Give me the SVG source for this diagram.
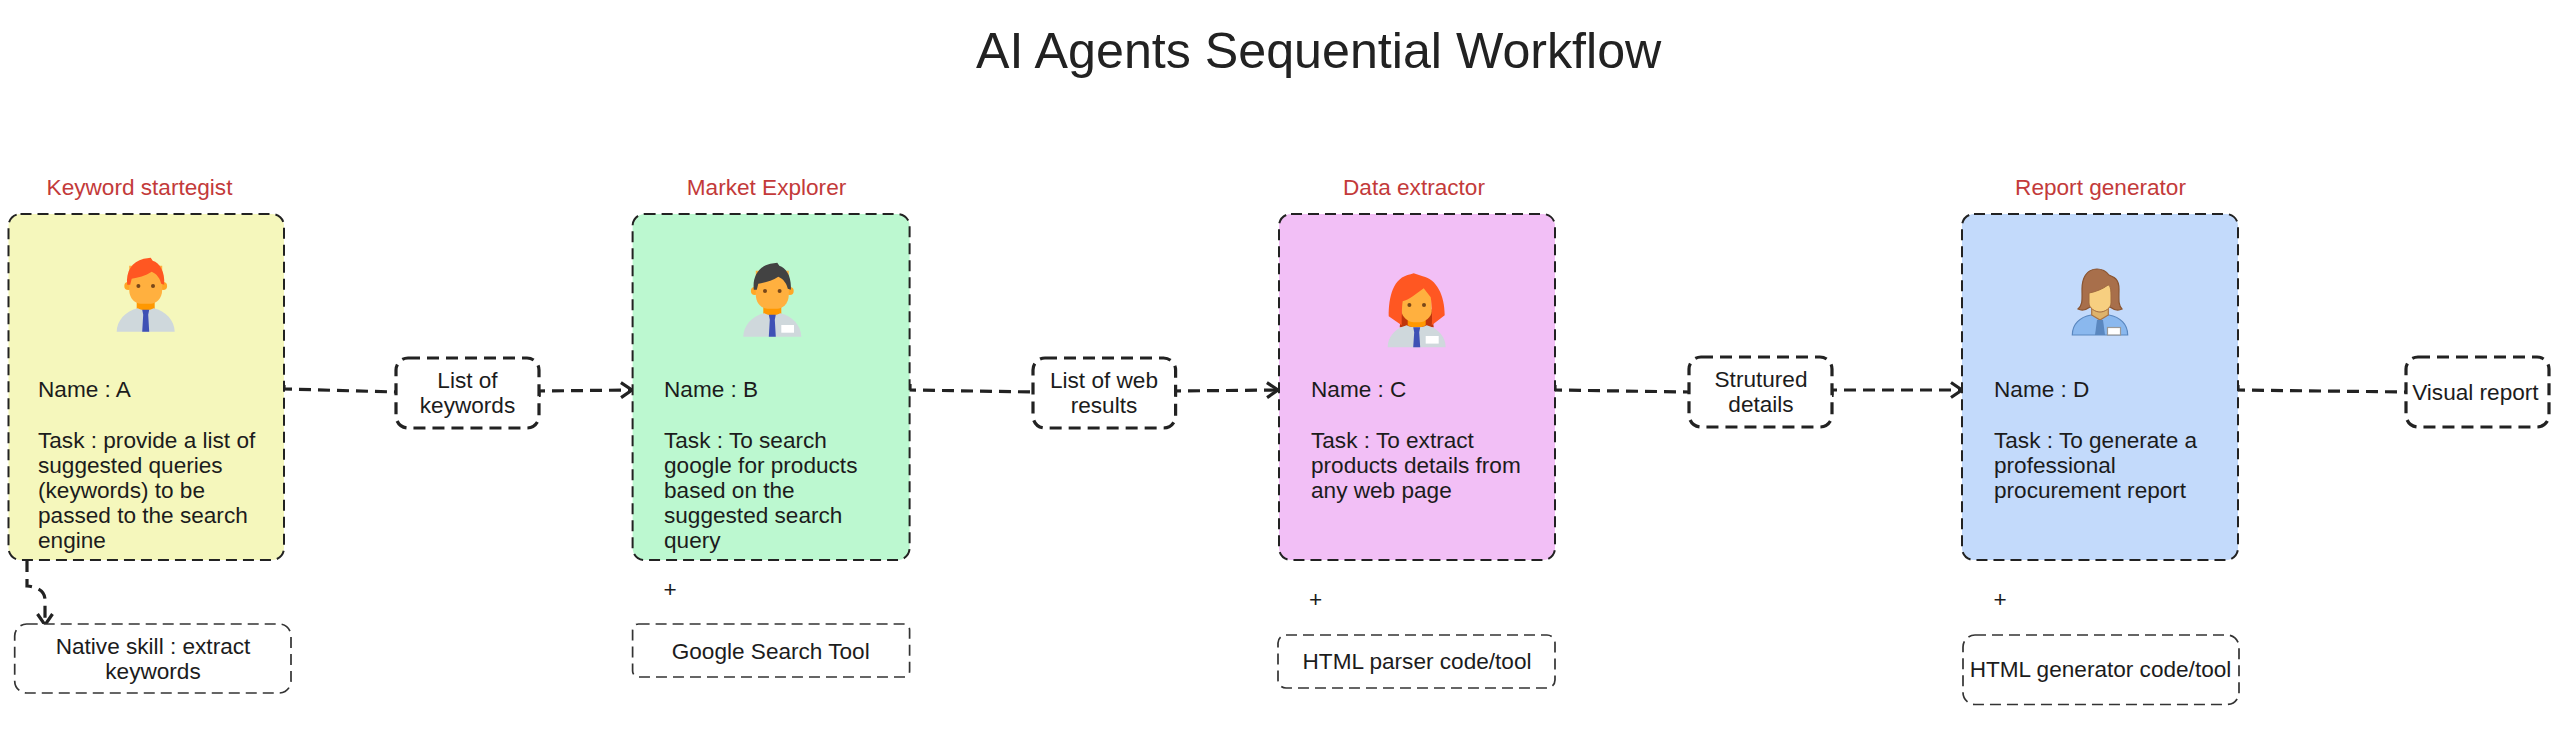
<svg xmlns="http://www.w3.org/2000/svg" width="2559" height="732" viewBox="0 0 2559 732">
<style>
text{font-family:"Liberation Sans",Arial,sans-serif;font-size:22.6px;fill:#1c1c1c}
.title{font-size:50.2px;fill:#222}
.head{fill:#c33a3a;text-anchor:middle}
.c{text-anchor:middle}
.agent{stroke:#222;stroke-width:2;stroke-dasharray:11 6}
.label{fill:#fff;stroke:#222;stroke-width:3.2;stroke-dasharray:12 7}
.tool{fill:#fff;stroke:#333;stroke-width:1.7;stroke-dasharray:11 6}
.link{fill:none;stroke:#222;stroke-width:3.2;stroke-dasharray:12 7}
.shirt{fill:#cfd8dc}.neck{fill:#ff9800}.tie{fill:#3f51b5}.skin{fill:#ffb03f}.ear{fill:#ffa726}.eye{fill:#784719}.badge{fill:#fff}
</style>
<defs>
<marker id="open" markerUnits="userSpaceOnUse" markerWidth="24" markerHeight="24" refX="12" refY="12" orient="auto" overflow="visible">
<path d="M1 4.500 L12 12 L1 19.500" fill="none" stroke="#222" stroke-width="3.200"/>
</marker>
<g id="body">
<path class="neck" d="M-9-34V-21H9V-34Z"/>
<path class="shirt" d="M-29 0C-29-11-20-21-8-23.500C-4-21 4-21 8-23.500C20-21 29-11 29 0Z"/>
<path class="tie" d="M-3.500-22H3.500L2.500-17L3.500 0H-3.500L-2.500-17Z"/>
</g>
<g id="face">
<circle class="ear" cx="-17.500" cy="-45.700" r="3.900"/><circle class="ear" cx="17.500" cy="-45.700" r="3.900"/>
<path class="skin" d="M-16.500-66H16.500V-42C16.500-33 10-28 5-28H-5C-10-28-16.500-33-16.500-42Z"/>
<circle class="eye" cx="-7.300" cy="-45.700" r="2"/><circle class="eye" cx="7.300" cy="-45.700" r="2"/>
</g>
<path id="manhair" d="M-18.500-47C-20-60-14-70-2-73L5-74L7-71C14-69 19.500-60 18.500-47L15.500-48C14.500-53 11-58 6-60C0-56-8-54-14-53L-15.500-47Z"/>
</defs>

<text class="title" x="976" y="68">AI Agents Sequential Workflow</text>

<g id="connectors">
<path class="link" d="M284 385V389L396 392"/>
<path class="link" d="M539 397V391L632 390" marker-end="url(#open)"/>
<path class="link" d="M910 384V390L1033 392"/>
<path class="link" d="M1175 397V391L1278 390" marker-end="url(#open)"/>
<path class="link" d="M1555 385V390L1689 392"/>
<path class="link" d="M1832 397V390L1962 390" marker-end="url(#open)"/>
<path class="link" d="M2238 385V390L2406 392"/>
<path class="link" d="M27 560V586C36 587 45 590 45 600V625" marker-end="url(#open)"/>
</g>

<g id="agent-a">
<text class="head" x="139.500" y="195">Keyword startegist</text>
<rect class="agent" x="8.500" y="214" width="275.500" height="346" rx="12" fill="#f5f7bc"/>
<g transform="translate(145.700 331.700)"><use href="#body"/><use href="#face"/><use href="#manhair" fill="#ff5722"/></g>
<text x="38" y="396.500">Name : A</text>
<text x="38" y="447.500">Task : provide a list of</text>
<text x="38" y="472.700">suggested queries</text>
<text x="38" y="497.900">(keywords) to be</text>
<text x="38" y="523.100">passed to the search</text>
<text x="38" y="548.300">engine</text>
</g>

<g id="skill-a">
<rect class="tool" x="14.700" y="624" width="276.300" height="69" rx="12"/>
<text class="c" x="153" y="654">Native skill : extract</text>
<text class="c" x="153" y="679.200">keywords</text>
</g>

<g id="label-keywords">
<rect class="label" x="396" y="358" width="143" height="70" rx="12"/>
<text class="c" x="467.500" y="387.500">List of</text>
<text class="c" x="467.500" y="412.700">keywords</text>
</g>

<g id="agent-b">
<text class="head" x="766.500" y="195">Market Explorer</text>
<rect class="agent" x="632.600" y="214" width="277" height="346" rx="12" fill="#bcf8d0"/>
<g transform="translate(772.300 336.700)"><use href="#body"/><use href="#face"/><use href="#manhair" fill="#424242"/><rect class="badge" x="9" y="-11.700" width="12.700" height="7.700"/></g>
<text x="664" y="396.500">Name : B</text>
<text x="664" y="447.500">Task : To search</text>
<text x="664" y="472.700">google for products</text>
<text x="664" y="497.900">based on the</text>
<text x="664" y="523.100">suggested search</text>
<text x="664" y="548.300">query</text>
</g>

<g id="tool-b">
<text class="c" x="670" y="597">+</text>
<rect class="tool" x="632.600" y="624" width="277" height="53" rx="6"/>
<text class="c" x="770.700" y="658.500">Google Search Tool</text>
</g>

<g id="label-web">
<rect class="label" x="1033" y="358" width="142.600" height="70" rx="12"/>
<text class="c" x="1104" y="387.500">List of web</text>
<text class="c" x="1104" y="412.700">results</text>
</g>

<g id="agent-c">
<text class="head" x="1414" y="195">Data extractor</text>
<rect class="agent" x="1279" y="214" width="276" height="346" rx="12" fill="#f2bff6"/>
<g transform="translate(1416.700 347.300)">
<path d="M-15-38H15L17-20H-17Z" fill="#bf360c"/>
<path class="neck" d="M-9-34V-22C-5-19 5-19 9-22V-34Z"/>
<path class="shirt" d="M-29 0C-29-10-22-19-10-22C-5-19 5-19 10-22C22-19 29-10 29 0Z"/>
<path class="tie" d="M-3.500-20H3.500L2.500-15L3.500 0H-3.500L-2.500-15Z"/>
<path class="skin" d="M-15-60H15V-36C15-30 8-25 3-25H-3C-8-25-15-30-15-36Z"/>
<path d="M-28-31C-28-50-24-70-6-73L-3-74L6-71C20-68 28-52 28-32L15-22C16-30 15-44 14-50L7-59C0-54-8-47-14-46C-15-40-15-28-15-22Z" fill="#ff5722"/>
<circle class="eye" cx="-7.300" cy="-42.300" r="2"/><circle class="eye" cx="7.300" cy="-42.300" r="2"/>
<rect class="badge" x="9" y="-11.300" width="13" height="7.600"/>
</g>
<text x="1311" y="396.500">Name : C</text>
<text x="1311" y="447.500">Task : To extract</text>
<text x="1311" y="472.700">products details from</text>
<text x="1311" y="497.900">any web page</text>
</g>

<g id="tool-c">
<text class="c" x="1315.500" y="607">+</text>
<rect class="tool" x="1278" y="635" width="277" height="53" rx="8"/>
<text class="c" x="1417" y="669">HTML parser code/tool</text>
</g>

<g id="label-details">
<rect class="label" x="1689" y="357" width="143" height="70" rx="12"/>
<text class="c" x="1761" y="387">Strutured</text>
<text class="c" x="1761" y="412.200">details</text>
</g>

<g id="agent-d">
<text class="head" x="2100.500" y="195">Report generator</text>
<rect class="agent" x="1962" y="214" width="276" height="346" rx="12" fill="#c3dafb"/>
<g transform="translate(2100 335)">
<path d="M-27.700 0C-27.700-11-20-18-9-20H9C20-18 27.700-11 27.700 0Z" fill="#8ab8ee" stroke="#5a87bf" stroke-width="1.200"/>
<path d="M-8.300-32V-20L0-15L8.300-20V-32Z" fill="#deb36b" stroke="#a87243" stroke-width="1.200"/>
<path d="M-3-15H3L5 0H-5Z" fill="#5a87bf"/>
<path d="M-3-66C-14-66-18-56-18-46C-18-36-17-30-22-26C-18-24-14-25-10-28H10C14-25 18-24 22-26C18-30 19-36 19-46C19-56 14-58 9-60C6-64 2-66-3-66Z" fill="#a86f4b" stroke="#8a5430" stroke-width="1.200"/>
<path d="M-11-42C-5-43 3-46 8-50C10-50 11-46 11-40V-32C11-27 5-23 0-23C-5-23-11-27-11-32Z" fill="#f7cf80" stroke="#a06a40" stroke-width="1"/>
<rect x="7.500" y="-7.500" width="13" height="7.500" fill="#fff" stroke="#999" stroke-width="1.200"/>
</g>
<text x="1994" y="396.500">Name : D</text>
<text x="1994" y="447.500">Task : To generate a</text>
<text x="1994" y="472.700">professional</text>
<text x="1994" y="497.900">procurement report</text>
</g>

<g id="tool-d">
<text class="c" x="2000" y="607">+</text>
<rect class="tool" x="1963" y="635" width="276" height="69.500" rx="12"/>
<text class="c" x="2100.500" y="677">HTML generator code/tool</text>
</g>

<g id="label-report">
<rect class="label" x="2406" y="357" width="143" height="70" rx="12"/>
<text class="c" x="2475.400" y="399.500">Visual report</text>
</g>
</svg>
